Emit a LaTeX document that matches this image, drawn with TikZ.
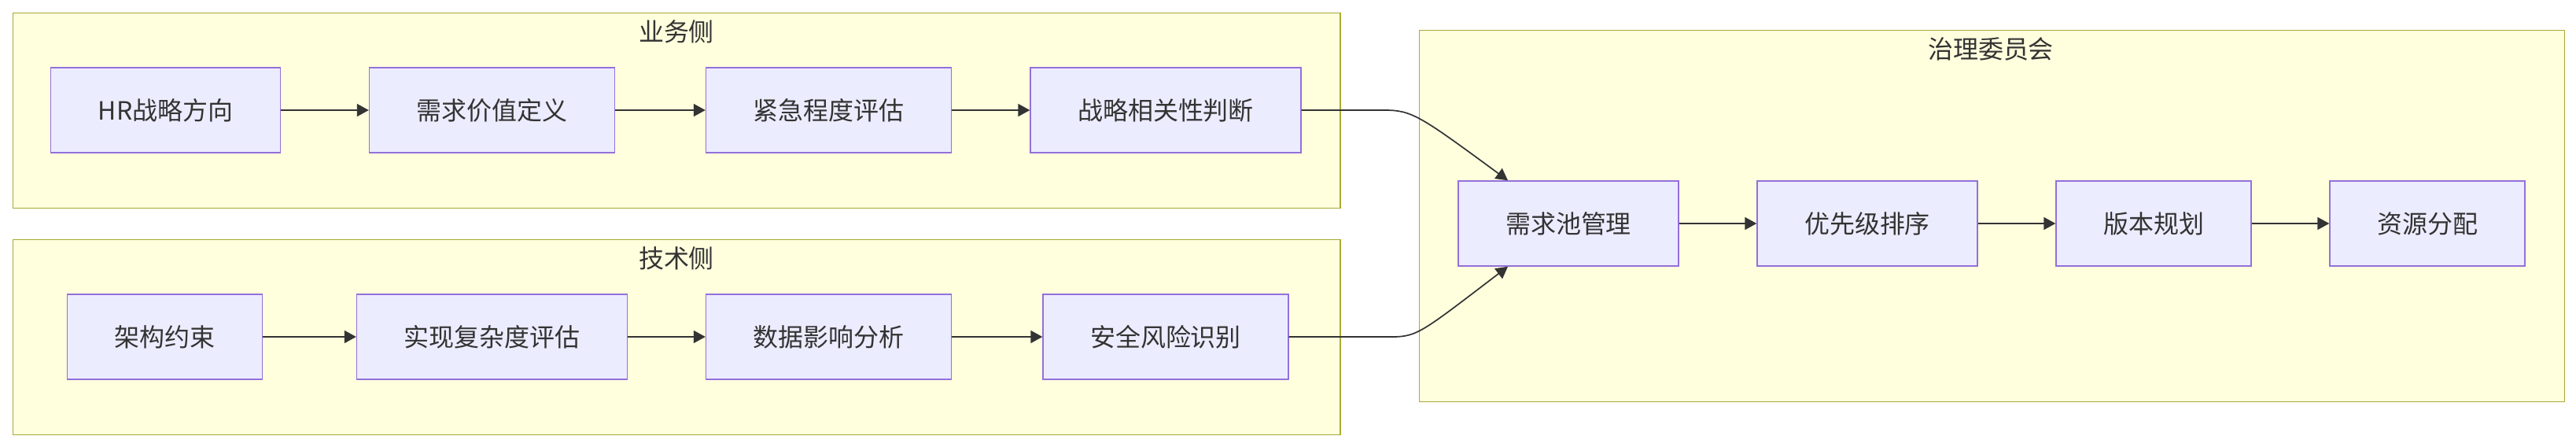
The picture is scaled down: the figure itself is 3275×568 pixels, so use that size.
\documentclass[tikz,border=0pt]{standalone}
\usepackage{fontspec}
\setmainfont{Noto Sans CJK SC}
\usepackage{tikz}
\usetikzlibrary{arrows.meta}
\usepackage{xcolor}
\definecolor{stepfill}{HTML}{ECECFF}
\definecolor{stepline}{HTML}{9370DB}
\definecolor{groupfill}{HTML}{FFFFDE}
\definecolor{groupline}{HTML}{AAAA33}
\definecolor{inkgray}{HTML}{333333}

\begin{document}
\begin{tikzpicture}[x=0.1mm,y=-0.1mm,>={Triangle[length=1.5mm,width=1.6mm]},
  font=\fontsize{9.1pt}{11pt}\selectfont,text=inkgray,
  stepbox/.style={draw=stepline,fill=stepfill,line width=0.15mm,minimum height=10.8mm,inner xsep=6mm,inner ysep=0pt},
  groupbox/.style={draw=groupline,fill=groupfill,line width=0.14mm,anchor=north west,inner sep=0pt},
  flow/.style={->,draw=inkgray,line width=0.17mm}]
  \useasboundingbox (0,0) rectangle (3275,568);

  % subgraph frames and their titles
  \node[groupbox,minimum width=168.75mm,minimum height=24.8mm] (bizgroup) at (16,16) {};
  \node[groupbox,minimum width=168.75mm,minimum height=24.85mm] (techgroup) at (16,303.5) {};
  \node[groupbox,minimum width=145.6mm,minimum height=47.2mm] (govgroup) at (1803.6,37.7) {};
  \node (biztitle) at (860,40) {业务侧};
  \node (techtitle) at (860,328) {技术侧};
  \node (govtitle) at (2531,62) {治理委员会};

  % business side
  \node[stepbox] (hr) at (210.5,140) {HR战略方向};
  \node[stepbox] (value) at (625.5,140) {需求价值定义};
  \node[stepbox] (urgency) at (1053.5,140) {紧急程度评估};
  \node[stepbox] (relevance) at (1482,140) {战略相关性判断};

  % technical side
  \node[stepbox] (arch) at (209.5,428) {架构约束};
  \node[stepbox] (complexity) at (625.5,428) {实现复杂度评估};
  \node[stepbox] (dataimpact) at (1053.5,428) {数据影响分析};
  \node[stepbox] (security) at (1482,428) {安全风险识别};

  % governance committee
  \node[stepbox] (pool) at (1994,284) {需求池管理};
  \node[stepbox] (priority) at (2374,284) {优先级排序};
  \node[stepbox] (release) at (2738,284) {版本规划};
  \node[stepbox] (resource) at (3086,284) {资源分配};

  \draw[flow] (hr) -- (value);
  \draw[flow] (value) -- (urgency);
  \draw[flow] (urgency) -- (relevance);
  \draw[flow] (arch) -- (complexity);
  \draw[flow] (complexity) -- (dataimpact);
  \draw[flow] (dataimpact) -- (security);
  \draw[flow] (pool) -- (priority);
  \draw[flow] (priority) -- (release);
  \draw[flow] (release) -- (resource);

  % both sides feed the pool
  \coordinate (poolin1) at ([xshift=-7.7mm]pool.north);
  \coordinate (poolin2) at ([xshift=-7.7mm]pool.south);
  \draw[flow] (relevance.east) -- (1760,140) .. controls (1795,140) and (1805,147) .. (poolin1);
  \draw[flow] (security.east) -- (1770,428) .. controls (1802,428) and (1809,421) .. (poolin2);
\end{tikzpicture}
\end{document}
